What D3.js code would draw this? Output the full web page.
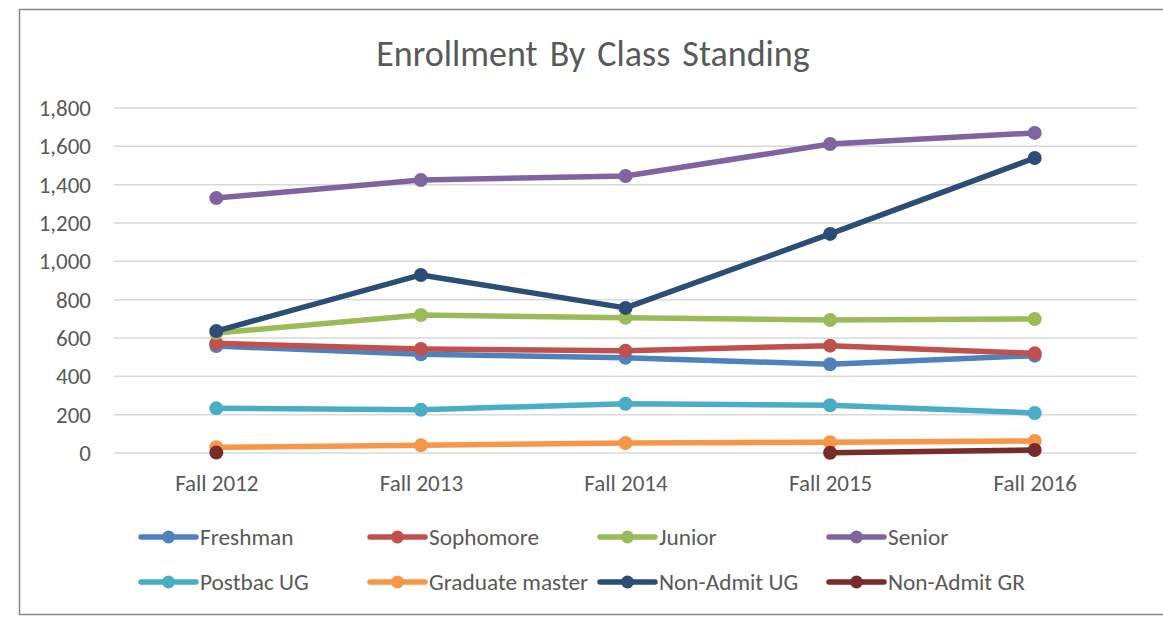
<!DOCTYPE html>
<html>
<head>
<meta charset="utf-8">
<script src="https://cdn.jsdelivr.net/npm/d3@7"></script>
<style>
  html, body { margin: 0; padding: 0; background: #fff; }
  svg { display: block; }
  text { font-family: Carlito, Lato, "Liberation Sans", sans-serif; fill: #595959; }
</style>
</head>
<body>
<svg id="chart" width="1163" height="617"></svg>
<script>
const categories = ["Fall 2012", "Fall 2013", "Fall 2014", "Fall 2015", "Fall 2016"];
const seriesNames = ["Freshman", "Sophomore", "Junior", "Senior", "Postbac UG", "Graduate master", "Non-Admit UG", "Non-Admit GR"];
const freshman       = [558, 515, 497, 463, 508];
const sophomore      = [572, 543, 534, 560, 520];
const junior         = [626, 720, 706, 694, 699];
const senior         = [1330, 1424, 1445, 1612, 1670];
const postbacUG      = [233, 226, 257, 249, 209];
const graduateMaster = [30, 40, 52, 56, 63];
const nonAdmitUG     = [636, 929, 757, 1143, 1539];
const nonAdmitGR     = [2, null, null, 1, 16];
const yTicks = [0, 200, 400, 600, 800, 1000, 1200, 1400, 1600, 1800];
const colors = ["#4F81BD", "#C0504D", "#9BBB59", "#8064A2", "#4BACC6", "#F79646", "#2C4D75", "#772C2A"];

const seriesValues = [freshman, sophomore, junior, senior, postbacUG, graduateMaster, nonAdmitUG, nonAdmitGR];
const series = seriesNames.map((n, i) => ({ name: n, values: seriesValues[i], color: colors[i] }));

const FONT = "Carlito, Lato, 'Liberation Sans', sans-serif";
const svg = d3.select("#chart");

// frame
svg.append("rect").attr("x", 19.5).attr("y", 9.5).attr("width", 1170).attr("height", 605)
  .attr("fill", "#fff").attr("stroke", "#898989").attr("stroke-width", 1.5);

const plot = { left: 114, right: 1137, top: 108, bottom: 453 };

const x = d3.scalePoint().domain(categories).range([plot.left, plot.right]).padding(0.5);
const y = d3.scaleLinear().domain([0, 1800]).range([plot.bottom, plot.top]);

// title
svg.append("text").attr("x", 593).attr("y", 66).attr("text-anchor", "middle")
  .attr("font-size", 36).attr("word-spacing", 4).text("Enrollment By Class Standing");

// gridlines
svg.append("g").selectAll("line").data(yTicks).join("line")
  .attr("x1", plot.left).attr("x2", plot.right)
  .attr("y1", d => y(d)).attr("y2", d => y(d))
  .attr("stroke", "#d9d9d9").attr("stroke-width", 1.5);

// y axis
const yAxis = d3.axisLeft(y).tickValues(yTicks).tickSize(0).tickPadding(23)
  .tickFormat(d3.format(","));
const yg = svg.append("g").attr("transform", `translate(${plot.left},0)`).call(yAxis);
yg.select(".domain").remove();
yg.selectAll("text").attr("font-size", 23).attr("fill", "#595959").style("font-family", FONT);

// x axis
const xAxis = d3.axisBottom(x).tickSize(0).tickPadding(22);
const xg = svg.append("g").attr("transform", `translate(0,${plot.bottom})`).call(xAxis);
xg.select(".domain").remove();
xg.selectAll("text").attr("font-size", 23).attr("fill", "#595959").style("font-family", FONT);

// lines
const line = d3.line()
  .defined(d => d.v !== null)
  .x(d => x(d.c)).y(d => y(d.v));

series.forEach(s => {
  const pts = categories.map((c, i) => ({ c, v: s.values[i] }));
  const g = svg.append("g");
  g.append("path").datum(pts).attr("d", line)
    .attr("fill", "none").attr("stroke", s.color).attr("stroke-width", 5.5)
    .attr("stroke-linejoin", "round").attr("stroke-linecap", "round");
  g.selectAll("circle").data(pts.filter(d => d.v !== null)).join("circle")
    .attr("cx", d => x(d.c)).attr("cy", d => y(d.v)).attr("r", 7)
    .attr("fill", s.color);
});

// legend
const legendX = [141, 370, 600, 829];
const legendY = [537, 582];
series.forEach((s, i) => {
  const lx = legendX[i % 4], ly = legendY[Math.floor(i / 4)];
  const g = svg.append("g").attr("transform", `translate(${lx},${ly})`);
  g.append("line").attr("x1", 0).attr("x2", 55).attr("y1", 0).attr("y2", 0)
    .attr("stroke", s.color).attr("stroke-width", 5.5).attr("stroke-linecap", "round");
  g.append("circle").attr("cx", 27.5).attr("cy", 0).attr("r", 6.5).attr("fill", s.color);
  g.append("text").attr("x", 59).attr("y", 0).attr("dy", "0.35em")
    .attr("font-size", 23.3).text(s.name);
});
</script>
</body>
</html>
